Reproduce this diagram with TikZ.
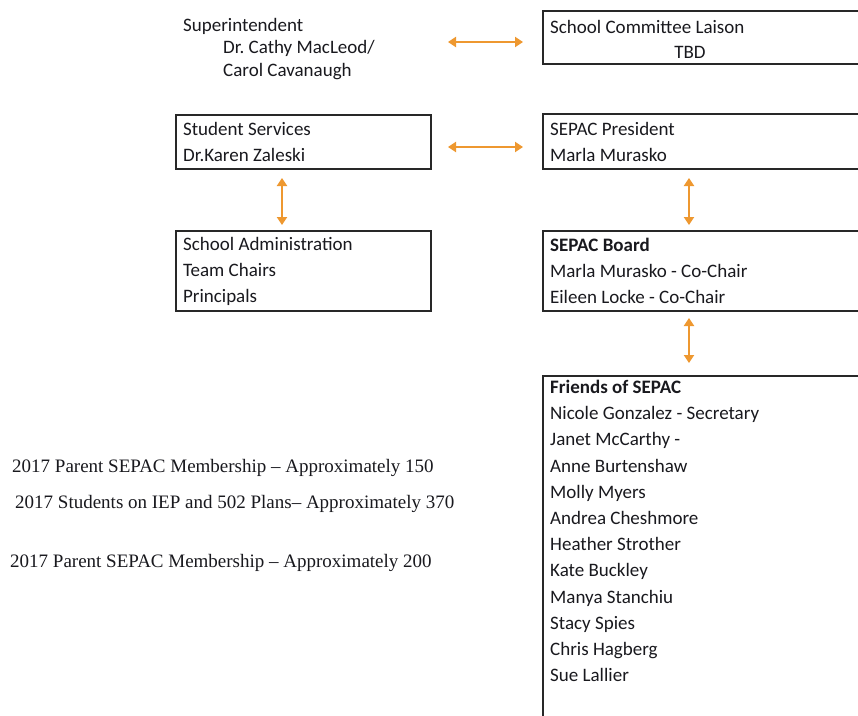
\documentclass[tikz,border=0pt]{standalone}
\usepackage{fontspec}
\setmainfont{Carlito}
\newfontfamily\timesfont[Ligatures=TeX]{Liberation Serif}
\usetikzlibrary{arrows.meta}
\frenchspacing
\definecolor{arrorange}{RGB}{238,152,48}
\definecolor{boxline}{RGB}{40,40,40}
\definecolor{txt}{RGB}{25,25,30}
\tikzset{
  box/.style={draw=boxline, line width=2.2pt, anchor=north west, inner xsep=7pt, inner ysep=0pt, align=flush left, text=txt, font=\fontsize{19}{26}\selectfont},
  plain/.style={anchor=west, inner sep=0pt, text=txt, font=\fontsize{19}{26}\selectfont, align=flush left},
  note/.style={anchor=west, inner sep=0pt, text=txt, font=\timesfont\fontsize{19}{22}\selectfont},
  arr/.style={draw=arrorange, line width=2.5pt, {Triangle[length=8pt,width=10pt]}-{Triangle[length=8pt,width=10pt]}}
}
\begin{document}
\begin{tikzpicture}[x=1pt,y=-1pt]
\useasboundingbox[fill=white] (0,0) rectangle (858,715);
% left column
\node[plain] (sup) at (183,26) {Superintendent};
\node[plain, anchor=north west, font=\fontsize{19}{23}\selectfont] (supn) at (223,40) {Dr.\ Cathy MacLeod/\\Carol Cavanaugh};
\node[box, text width=241pt, minimum height=54pt] (ss) at (175,114) {Student Services\\Dr.Karen Zaleski};
\node[box, text width=241pt, minimum height=80pt] (sa) at (175,230) {School Administration\\Team Chairs\\Principals};
% right column
\node[box, text width=326pt, minimum height=53pt] (sc) at (542,10) {};
\node[plain] (sct) at (550,27) {School Committee Laison};
\node[plain, anchor=center] (tbd) at (690,52) {TBD};
\node[box, text width=326pt, minimum height=55pt] (sp) at (542,113) {SEPAC President\\Marla Murasko};
\node[box, text width=326pt, minimum height=80pt] (sb) at (542,230) {\textbf{SEPAC Board}\\Marla Murasko - Co-Chair\\Eileen Locke - Co-Chair};
\node[box, text width=326pt, minimum height=360pt] (fr) at (542,375) {};
\node[plain, anchor=north west, font=\fontsize{19}{26.2}\selectfont] (frt) at (550,380) {\textbf{Friends of SEPAC}\\Nicole Gonzalez - Secretary\\Janet McCarthy -\\Anne Burtenshaw\\Molly Myers\\Andrea Cheshmore\\Heather Strother\\Kate Buckley\\Manya Stanchiu\\Stacy Spies\\Chris Hagberg\\Sue Lallier};
% notes
\node[note] (n1) at (12,468) {2017 Parent SEPAC Membership – Approximately 150};
\node[note] (n2) at (15,504) {2017 Students on IEP and 502 Plans– Approximately 370};
\node[note] (n3) at (10,563) {2017 Parent SEPAC Membership – Approximately 200};
% connectors
\coordinate (h1) at (448,42);
\draw[arr, shorten >=19pt] (h1) -- (h1 -| sc.west);
\coordinate (h2) at (448,147);
\draw[arr, shorten >=19pt] (h2) -- (h2 -| sp.west);
\coordinate (v1) at (282,178);
\draw[arr, shorten >=5pt] (v1) -- (v1 |- sa.north);
\coordinate (v2) at (689,178);
\draw[arr, shorten >=5pt] (v2) -- (v2 |- sb.north);
\coordinate (v3) at (689,318);
\draw[arr, shorten >=12pt] (v3) -- (v3 |- fr.north);
\end{tikzpicture}
\end{document}
